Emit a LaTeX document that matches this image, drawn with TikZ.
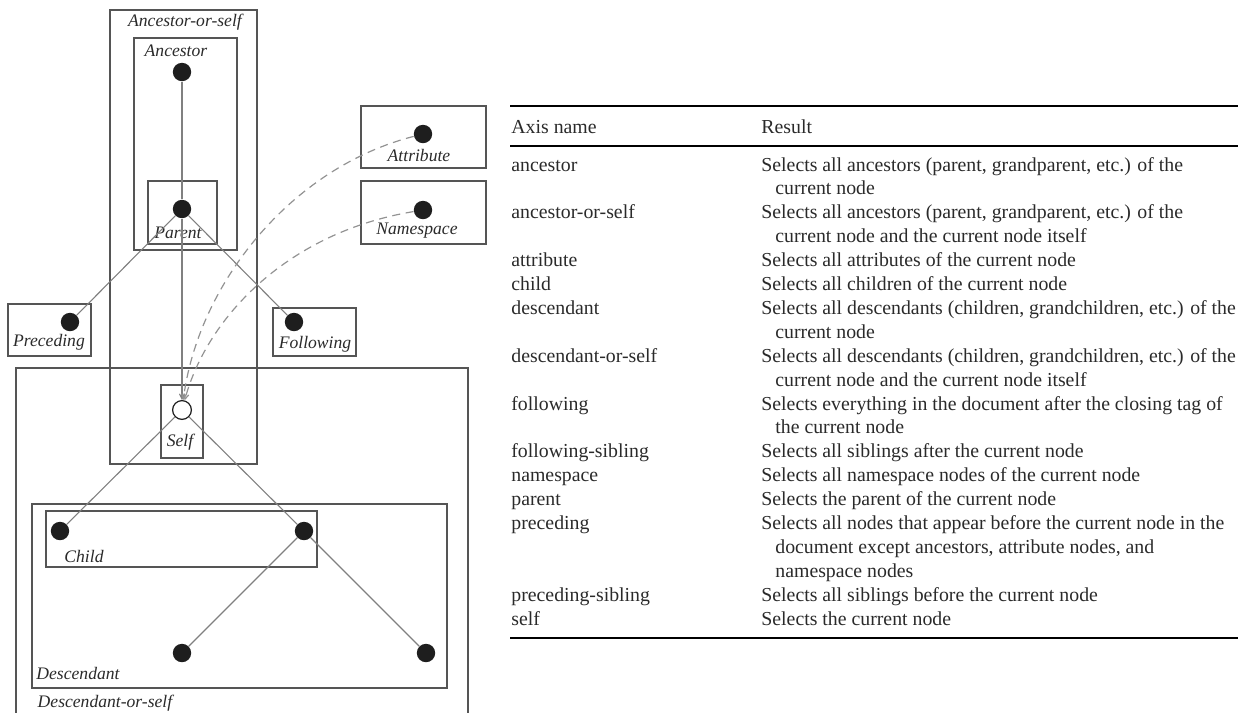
\documentclass[tikz,border=0pt]{standalone}
\usepackage{fontspec}
\setmainfont{Liberation Serif}
\usetikzlibrary{arrows.meta}
\definecolor{boxc}{HTML}{555555}
\definecolor{linec}{HTML}{808080}
\definecolor{dotc}{HTML}{1E1E1E}
\definecolor{txtc}{HTML}{2A2A2A}
\begin{document}
\begin{tikzpicture}[x=0.5pt,y=-0.5pt,
  every node/.style={font=\fontsize{8.8}{10}\selectfont, text=txtc},
  box/.style={draw=boxc, line width=0.55pt},
  dot/.style={circle, fill=dotc, inner sep=0pt, minimum size=9.2pt},
  odot/.style={circle, draw=dotc, fill=white, line width=0.6pt, inner sep=0pt, minimum size=9.4pt},
  lbl/.style={font=\fontsize{8.8}{10}\selectfont\itshape, inner sep=0pt},
  conn/.style={draw=linec, line width=0.55pt},
  dconn/.style={draw=linec!85, line width=0.6pt, dash pattern=on 4pt off 2.8pt},
  tip/.style={-{Straight Barb[length=2.5pt,width=2.5pt]}},
  cell/.style={anchor=base west, inner sep=0pt, font=\fontsize{9.9}{11}\selectfont},
  rule/.style={line width=1.2pt},
]
\useasboundingbox (0,0) rectangle (1244,713);

% ---------- boxes ----------
\draw[box] (110,10) rectangle (257,464);
\draw[box] (134,38) rectangle (237,250);
\draw[box] (148,181) rectangle (217,244);
\draw[box] (361,106) rectangle (486,168);
\draw[box] (361,181) rectangle (486,244);
\draw[box] (8,304) rectangle (91,356);
\draw[box] (273,308) rectangle (356,356);
\draw[box] (16,720) -- (16,368) -- (468,368) -- (468,720);
\draw[box] (161,385) rectangle (203,458);
\draw[box] (32,504) rectangle (447,688);
\draw[box] (46,511) rectangle (317,567);

% ---------- labels ----------
\node[lbl] (lAos) at (185,22) {Ancestor-or-self};
\node[lbl] (lAnc) at (176,51) {Ancestor};
\node[lbl] (lPar) at (178,233) {Parent};
\node[lbl] (lAtt) at (419,155) {Attribute};
\node[lbl] (lNs) at (417,231) {Namespace};
\node[lbl] (lPre) at (49,342) {Preceding};
\node[lbl] (lFol) at (315,344) {Following};
\node[lbl] (lSelf) at (180,442) {Self};
\node[lbl] (lChild) at (84,556) {Child};
\node[lbl] (lDesc) at (78,673) {Descendant};
\node[lbl] (lDos) at (105,703) {Descendant-or-self};

% ---------- dots ----------
\node[dot] (anc) at (182,72) {};
\node[dot] (par) at (182,209) {};
\node[dot] (att) at (423,134) {};
\node[dot] (ns) at (423,210) {};
\node[dot] (pre) at (70,322) {};
\node[dot] (fol) at (294,322) {};
\node[odot] (self) at (182,410) {};
\node[dot] (c1) at (60,531) {};
\node[dot] (c2) at (304,531) {};
\node[dot] (g1) at (182,653) {};
\node[dot] (g2) at (426,653) {};

% ---------- connectors ----------
\draw[conn] (anc) -- (par);
\draw[conn,tip] (par) -- (self);
\draw[conn] (par) -- (pre);
\draw[conn] (par) -- (fol);
\draw[conn] (self) -- (c1);
\draw[conn] (self) -- (c2);
\draw[conn] (c2) -- (g1);
\draw[conn] (c2) -- (g2);
\draw[dconn,tip] (att) .. controls (290,168) and (198,285) .. (self);
\draw[dconn,tip] (ns) .. controls (290,232) and (208,315) .. (self);

% ---------- table ----------
\draw[rule] (510,106) -- (1238,106);
\draw[line width=0.7pt] (510,146) -- (1238,146);
\draw[rule] (510,638) -- (1238,638);

\node[cell] (hA) at (511,133) {Axis name};
\node[cell] (hR) at (761,133) {Result};

\def\rowy#1{171+23.9*#1}
\node[cell] (n0) at (511,{\rowy{0}}) {ancestor};
\node[cell] (r0) at (761,{\rowy{0}}) {Selects all ancestors (parent, grandparent, etc.) of the};
\node[cell] (r1) at (775,{\rowy{1}}) {current node};
\node[cell] (n2) at (511,{\rowy{2}}) {ancestor-or-self};
\node[cell] (r2) at (761,{\rowy{2}}) {Selects all ancestors (parent, grandparent, etc.) of the};
\node[cell] (r3) at (775,{\rowy{3}}) {current node and the current node itself};
\node[cell] (n4) at (511,{\rowy{4}}) {attribute};
\node[cell] (r4) at (761,{\rowy{4}}) {Selects all attributes of the current node};
\node[cell] (n5) at (511,{\rowy{5}}) {child};
\node[cell] (r5) at (761,{\rowy{5}}) {Selects all children of the current node};
\node[cell] (n6) at (511,{\rowy{6}}) {descendant};
\node[cell] (r6) at (761,{\rowy{6}}) {Selects all descendants (children, grandchildren, etc.) of the};
\node[cell] (r7) at (775,{\rowy{7}}) {current node};
\node[cell] (n8) at (511,{\rowy{8}}) {descendant-or-self};
\node[cell] (r8) at (761,{\rowy{8}}) {Selects all descendants (children, grandchildren, etc.) of the};
\node[cell] (r9) at (775,{\rowy{9}}) {current node and the current node itself};
\node[cell] (n10) at (511,{\rowy{10}}) {following};
\node[cell] (r10) at (761,{\rowy{10}}) {Selects everything in the document after the closing tag of};
\node[cell] (r11) at (775,{\rowy{11}}) {the current node};
\node[cell] (n12) at (511,{\rowy{12}}) {following-sibling};
\node[cell] (r12) at (761,{\rowy{12}}) {Selects all siblings after the current node};
\node[cell] (n13) at (511,{\rowy{13}}) {namespace};
\node[cell] (r13) at (761,{\rowy{13}}) {Selects all namespace nodes of the current node};
\node[cell] (n14) at (511,{\rowy{14}}) {parent};
\node[cell] (r14) at (761,{\rowy{14}}) {Selects the parent of the current node};
\node[cell] (n15) at (511,{\rowy{15}}) {preceding};
\node[cell] (r15) at (761,{\rowy{15}}) {Selects all nodes that appear before the current node in the};
\node[cell] (r16) at (775,{\rowy{16}}) {document except ancestors, attribute nodes, and};
\node[cell] (r17) at (775,{\rowy{17}}) {namespace nodes};
\node[cell] (n18) at (511,{\rowy{18}}) {preceding-sibling};
\node[cell] (r18) at (761,{\rowy{18}}) {Selects all siblings before the current node};
\node[cell] (n19) at (511,{\rowy{19}}) {self};
\node[cell] (r19) at (761,{\rowy{19}}) {Selects the current node};
\end{tikzpicture}
\end{document}
